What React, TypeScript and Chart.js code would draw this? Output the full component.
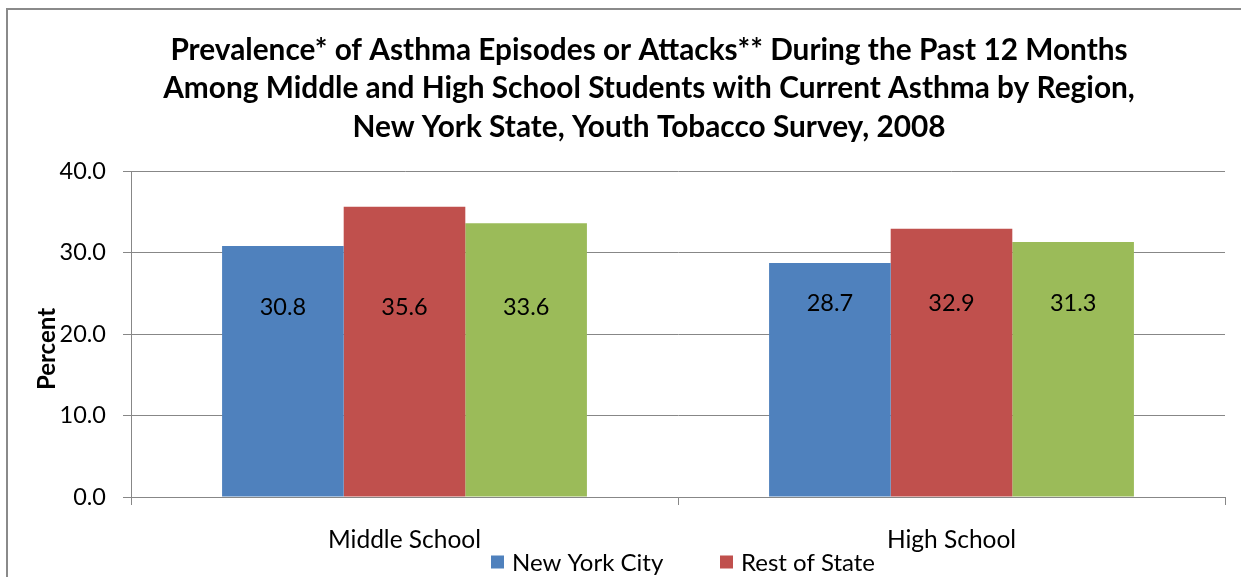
import React, { useEffect, useRef } from "react";
import { Chart, registerables } from "chart.js";

Chart.register(...registerables);

const categories = ["Middle School", "High School"];
const seriesNames = ["New York City", "Rest of State", "Total"];
const nycValues = [30.8, 28.7];
const restValues = [35.6, 32.9];
const totalValues = [33.6, 31.3];
const seriesColors = ["#4F81BD", "#C0504D", "#9BBB59"];
const titleLines = [
  "Prevalence* of Asthma Episodes or Attacks** During the Past 12 Months",
  "Among Middle and High School Students with Current Asthma by Region,",
  "New York State, Youth Tobacco Survey, 2008",
];
const yAxisTitle = "Percent";
const yMin = 0;
const yMax = 40;
const yStep = 10;

const FONT = "Lato, 'Open Sans', 'Liberation Sans', sans-serif";

const decorPlugin = {
  id: "decor",
  beforeDraw(chart: any) {
    const ctx = chart.ctx;
    ctx.save();
    ctx.fillStyle = "#ffffff";
    ctx.fillRect(0, 0, chart.width, chart.height);
    ctx.strokeStyle = "#8a8a8a";
    ctx.lineWidth = 2;
    ctx.strokeRect(7, 9, 1285, 800);
    ctx.restore();
  },
  afterDraw(chart: any, _args: any, opts: any) {
    const ctx = chart.ctx;
    ctx.save();
    // title
    ctx.fillStyle = "#000000";
    ctx.textAlign = "center";
    ctx.textBaseline = "middle";
    ctx.font = `bold ${opts.titleSize}px ${FONT}`;
    titleLines.forEach((t, i) => {
      ctx.fillText(t, opts.titleX, opts.titleY + i * opts.titleLineHeight);
    });
    // y axis title
    ctx.save();
    ctx.translate(opts.yTitleX, opts.yTitleY);
    ctx.rotate(-Math.PI / 2);
    ctx.font = `bold ${opts.yTitleSize}px ${FONT}`;
    ctx.fillText(yAxisTitle, 0, 0);
    ctx.restore();
    // data labels
    ctx.font = `${opts.labelSize}px ${FONT}`;
    const yScale = chart.scales.y;
    chart.data.datasets.forEach((ds: any, i: number) => {
      const meta = chart.getDatasetMeta(i);
      meta.data.forEach((bar: any, j: number) => {
        const y = yScale.getPixelForValue(opts.labelLevels[j]);
        ctx.fillText(Number(ds.data[j]).toFixed(1), bar.x, y);
      });
    });
    // legend
    ctx.font = `${opts.legendSize}px ${FONT}`;
    ctx.textAlign = "left";
    const box = opts.legendBox;
    let x = opts.legendX;
    let y = opts.legendY;
    chart.data.datasets.forEach((ds: any, i: number) => {
      if (i > 0 && i % opts.legendPerRow === 0) {
        x = opts.legendX;
        y += opts.legendRowHeight;
      }
      ctx.fillStyle = ds.backgroundColor;
      ctx.fillRect(x, y - box / 2, box, box);
      ctx.fillStyle = "#000000";
      ctx.fillText(ds.label, x + box + 8, y + 1);
      x += opts.legendPitch;
    });
    ctx.restore();
  },
};

export default function App() {
  const canvasRef = useRef<HTMLCanvasElement | null>(null);

  useEffect(() => {
    document.body.style.margin = "0";
    document.body.style.overflow = "hidden";
    const canvas = canvasRef.current;
    if (!canvas) return;
    const seriesValues = [nycValues, restValues, totalValues];
    const chart = new Chart(canvas, {
      type: "bar",
      data: {
        labels: categories,
        datasets: seriesNames.map((name, i) => ({
          label: name,
          data: seriesValues[i],
          backgroundColor: seriesColors[i],
          borderWidth: 0,
          categoryPercentage: 0.667,
          barPercentage: 1.0,
        })),
      },
      plugins: [decorPlugin],
      options: {
        responsive: false,
        animation: false,
        devicePixelRatio: 1,
        layout: { padding: { left: 30, top: 171, right: 75, bottom: 68 } },
        plugins: {
          legend: { display: false },
          title: { display: false },
          tooltip: { enabled: false },
          decor: {
            titleX: 649,
            titleY: 50,
            titleLineHeight: 38.5,
            titleSize: 29.8,
            yTitleX: 47,
            yTitleY: 349,
            yTitleSize: 24,
            labelSize: 23.5,
            labelLevels: [23.2, 23.7],
            legendSize: 24,
            legendBox: 13,
            legendX: 491,
            legendY: 562,
            legendPitch: 229,
            legendPerRow: 2,
            legendRowHeight: 30,
          },
        } as any,
        scales: {
          x: {
            offset: true,
            grid: {
              display: true,
              drawOnChartArea: false,
              drawTicks: true,
              tickLength: 8,
              color: "#878787",
              offset: true,
            },
            border: { display: true, color: "#878787" },
            ticks: {
              color: "#000000",
              font: { family: FONT, size: 24.5 },
              padding: 20,
              maxRotation: 0,
            },
            afterFit: (scale: any) => {
              scale.height = 55;
            },
          },
          y: {
            min: yMin,
            max: yMax,
            grid: {
              color: "#878787",
              tickLength: 8,
              drawTicks: true,
            },
            border: { display: true, color: "#878787" },
            ticks: {
              stepSize: yStep,
              color: "#000000",
              font: { family: FONT, size: 23.5 },
              padding: 17,
              callback: (v: any) => Number(v).toFixed(1),
            },
            title: { display: false },
            afterFit: (scale: any) => {
              scale.width = 101;
            },
          },
        },
      },
    });
    return () => chart.destroy();
  }, []);

  return (
    <div
      style={{
        position: "fixed",
        left: 0,
        top: 0,
        width: 1241,
        height: 577,
        overflow: "hidden",
        background: "#ffffff",
      }}
    >
      <canvas ref={canvasRef} width={1300} height={620} style={{ display: "block" }} />
    </div>
  );
}
